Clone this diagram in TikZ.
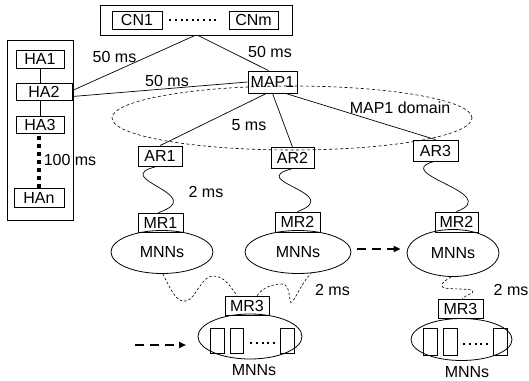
\documentclass[tikz,border=0pt]{standalone}
\usepackage{fontspec}
\setmainfont{Liberation Sans}
\usetikzlibrary{shapes.geometric,arrows.meta}
\begin{document}
\begin{tikzpicture}[x=1pt,y=-1pt,
  font=\fontsize{16}{19}\selectfont,
  box/.style={draw,line width=0.8pt,inner sep=0pt,minimum height=18pt},
  frame/.style={draw,line width=0.9pt},
  lbl/.style={inner sep=0pt},
  mnn/.style={draw,ellipse,line width=0.8pt,inner sep=0pt},
  cell/.style={draw,line width=0.7pt,inner sep=0pt,minimum width=14pt,minimum height=25pt},
  link/.style={line width=0.7pt},
  wave/.style={line width=0.7pt},
  dwave/.style={line width=0.6pt,dash pattern=on 2.5pt off 2pt},
  domainline/.style={line width=0.6pt,dash pattern=on 3pt off 2.5pt},
  smalldots/.style={line width=2pt,dash pattern=on 2pt off 3.6pt},
  bigdots/.style={line width=3.5pt,dash pattern=on 3.5pt off 4.5pt},
  move/.style={line width=2pt,dash pattern=on 9pt off 6pt,-{Triangle[length=7pt,width=6pt]}}
]
\useasboundingbox (0,0) rectangle (529,380);

% CN group
\node[frame,minimum width=192pt,minimum height=30pt,inner sep=0pt] (CNbox) at (196,20) {};
\node[box,minimum width=50pt] (CN1) at (137,20) {CN1};
\node[box,minimum width=49pt] (CNm) at (253.5,20) {CNm};
\draw[smalldots] ([xshift=7pt]CN1.east) -- ([xshift=-12pt]CNm.west);

% HA group
\node[frame,minimum width=66pt,minimum height=180pt,inner sep=0pt] (HAbox) at (40,130) {};
\node[box,minimum width=48pt] (HA1) at (40,59) {HA1};
\node[box,minimum width=56pt,minimum height=17pt] (HA2) at (44,91.5) {HA2};
\node[box,minimum width=48pt,minimum height=17pt] (HA3) at (40,124.5) {HA3};
\node[box,minimum width=50pt,minimum height=19pt] (HAn) at (39,197.5) {HAn};
\draw[link] (HA1.south) -- (HA1.south |- HA2.north);
\draw[link] (HA3.north |- HA2.south) -- (HA3.north);
\draw[bigdots] ([yshift=-3pt,xshift=-1pt]HA3.south) -- (HAn.north);
\node[lbl] at (70,160) {100 ms};

% MAP
\draw[domainline] (292,118) ellipse [x radius=180pt, y radius=32pt];
\node[box,minimum width=49pt,minimum height=22pt] (MAP1) at (272.5,82) {MAP1};
\node[lbl] at (400,108) {MAP1 domain};

\draw[link] ([xshift=-1pt]CNbox.south) -- ([yshift=1pt]HA2.east);
\draw[link] ([xshift=2pt]CNbox.south) -- ([xshift=-4pt]MAP1.north);
\draw[link] ([yshift=-5pt]HA2.east) -- (MAP1.west);
\node[lbl] at (114.5,56.5) {50 ms};
\node[lbl] at (167,81) {50 ms};
\node[lbl] at (270,52) {50 ms};

% ARs
\node[box,minimum width=44pt,minimum height=20pt] (AR1) at (160,156) {AR1};
\node[box,minimum width=43pt,minimum height=21pt] (AR2) at (292.5,158) {AR2};
\node[box,minimum width=45pt,minimum height=21pt] (AR3) at (435.5,150.5) {AR3};
\draw[link] ([xshift=-6pt]MAP1.south) -- (AR1.north);
\draw[link] ([xshift=0pt]MAP1.south) -- (AR2.north);
\draw[link] ([xshift=13pt]MAP1.south) -- (AR3.north);
\node[lbl] at (249,125) {5 ms};

% MRs and MNNs
\node[mnn,minimum width=102pt,minimum height=43pt] (E1) at (162,252) {MNNs};
\node[mnn,minimum width=106pt,minimum height=43pt] (E2) at (298,252) {MNNs};
\node[mnn,minimum width=92pt,minimum height=47pt] (E3) at (453,253) {MNNs};
\node[box,minimum width=45pt,minimum height=19pt] (MR1) at (160.5,222.5) {MR1};
\node[box,minimum width=45pt,minimum height=20pt] (MR2) at (297.5,222) {MR2};
\node[box,minimum width=43pt,minimum height=20pt] (MR2b) at (456.5,222) {MR2};

\draw[wave] ([xshift=-3pt]AR1.south) .. controls +(-50,12) and +(52,-18) .. ([xshift=-2pt]MR1.north);
\draw[wave] ([xshift=-1pt]AR2.south) .. controls +(-46,12) and +(48,-18) .. (MR2.north);
\draw[wave] ([xshift=-1pt]AR3.south) .. controls +(-46,12) and +(48,-18) .. (MR2b.north);
\node[lbl] at (206,192) {2 ms};

\draw[move] ([xshift=6pt,yshift=3pt]E2.east) -- ([xshift=-6pt,yshift=4pt]E3.west);

% bottom middle
\node[mnn,minimum width=104pt,minimum height=45pt] (E4) at (250,336.5) {};
\node[box,minimum width=44pt,minimum height=19pt] (MR3) at (247,305.5) {MR3};
\node[cell] (c41) at (217,340.5) {};
\node[cell,minimum width=13pt] (c42) at (236.5,340.5) {};
\node[cell] (c43) at (287,340.5) {};
\draw[smalldots] ([xshift=7pt,yshift=-2pt]c42.east) -- ([xshift=-5pt,yshift=-2pt]c43.west);
\node[lbl] at (254,370) {MNNs};
\coordinate (a1) at (135,345);
\coordinate (a2) at (186,345);
\draw[move] (a1) -- (a2);

\draw[dwave] (E1.-88) .. controls +(8,15) and +(-10,2) .. (186,301)
   .. controls +(10,-2) and +(-12,0) .. (213,276)
   .. controls +(12,0) and +(-6,-8) .. ([xshift=-10pt]MR3.north);
\draw[dwave] ([xshift=10pt]MR3.north) .. controls +(6,-8) and +(-10,0) .. (282,284)
   .. controls +(10,0) and +(-4,4) .. (292,302)
   .. controls +(4,-4) and +(-10,10) .. (E2.-58);
\node[lbl] at (332.5,290) {2 ms};

% bottom right
\node[mnn,minimum width=101pt,minimum height=42pt] (E5) at (461.5,339.5) {};
\node[box,minimum width=45pt,minimum height=19pt] (MR3b) at (460.5,308.5) {MR3};
\node[cell,minimum height=27pt] (c51) at (430,341.5) {};
\node[cell,minimum height=27pt] (c52) at (450,341.5) {};
\node[cell,minimum height=27pt] (c53) at (500,341.5) {};
\draw[smalldots] ([xshift=6pt,yshift=-2pt]c52.east) -- ([xshift=-5pt,yshift=-2pt]c53.west);
\node[lbl] at (467,372) {MNNs};

\draw[dwave] ([xshift=-2pt]E3.south) .. controls +(-6,4) and +(0,-4) .. (442,286)
   .. controls +(0,4) and +(-12,-2) .. (472,290)
   .. controls +(4,4) and +(4,-5) .. ([xshift=2pt]MR3b.north);
\node[lbl] at (511,290) {2 ms};
\end{tikzpicture}
\end{document}
